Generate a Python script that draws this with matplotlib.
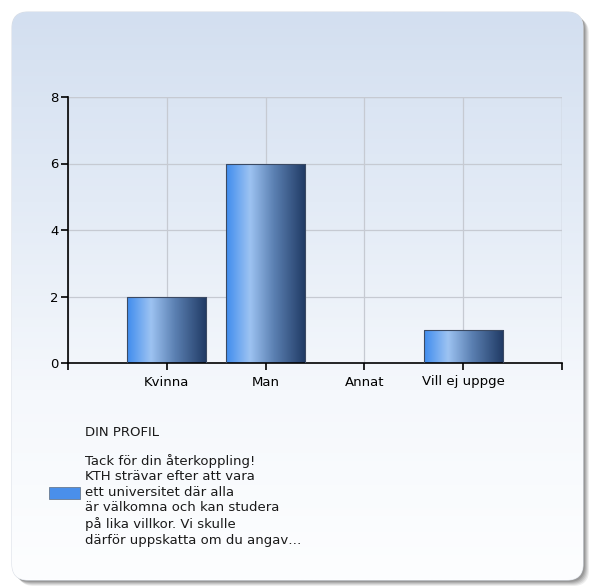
import numpy as np
import matplotlib
matplotlib.use("Agg")
import matplotlib.pyplot as plt
from matplotlib.patches import FancyBboxPatch, Rectangle
from matplotlib.colors import LinearSegmentedColormap

# ---- data ----
categories = ["Kvinna", "Man", "Annat", "Vill ej uppge"]
counts = [2, 6, 0, 1]
y_ticks = [0, 2, 4, 6, 8]
legend_title = "DIN PROFIL"
legend_text = ("Tack för din återkoppling!\n"
               "KTH strävar efter att vara\n"
               "ett universitet där alla\n"
               "är välkomna och kan studera\n"
               "på lika villkor. Vi skulle\n"
               "därför uppskatta om du angav…")

W, H = 594, 586
fig = plt.figure(figsize=(W / 100, H / 100), dpi=100)
fig.patch.set_facecolor("white")

# ---- rounded panel with drop shadow and vertical gradient ----
bg = fig.add_axes([0, 0, 1, 1], zorder=0)
bg.set_xlim(0, W)
bg.set_ylim(H, 0)
bg.axis("off")

px0, py0, px1, py1 = 12, 12, 583, 580
for i, a in enumerate([0.10, 0.13, 0.16, 0.20, 0.25]):
    off = 6 - i
    sh = FancyBboxPatch((px0 + off, py0 + off), px1 - px0, py1 - py0,
                        boxstyle="round,pad=0,rounding_size=16",
                        facecolor=(0.35, 0.35, 0.35, a), edgecolor="none")
    bg.add_patch(sh)

panel = FancyBboxPatch((px0, py0), px1 - px0, py1 - py0,
                       boxstyle="round,pad=0,rounding_size=16",
                       facecolor="white", edgecolor=(0.85, 0.87, 0.9), lw=0.8)
bg.add_patch(panel)
panel_cmap = LinearSegmentedColormap.from_list(
    "panel", ["#d3dff0", "#e3ebf6", "#f5f8fc", "#fdfeff"])
grad = np.linspace(0, 1, 256).reshape(-1, 1)
im = bg.imshow(grad, cmap=panel_cmap, aspect="auto",
               extent=(px0, px1, py1, py0), zorder=1)
im.set_clip_path(panel)

# ---- bar chart ----
ax = fig.add_axes([68 / W, 1 - 363 / H, (562 - 68) / W, (363 - 97) / H], zorder=2)
ax.set_facecolor("none")
x = np.arange(1, len(categories) + 1)
ax.set_xlim(0, len(categories) + 1)
ax.set_ylim(0, 8)

ax.set_yticks(y_ticks)
ax.set_xticks(list(range(0, len(categories) + 2)))
ax.set_xticklabels([""] + categories + [""])
ax.grid(True, color="#c6cad2", lw=0.9)
ax.set_axisbelow(True)
for s in ["top", "right"]:
    ax.spines[s].set_visible(False)
for s in ["left", "bottom"]:
    ax.spines[s].set_color("black")
    ax.spines[s].set_linewidth(1.2)
ax.tick_params(axis="both", direction="out", length=5, width=1.2,
               labelsize=9.5, colors="black", pad=3)
ax.tick_params(axis="x", pad=4)
ax.tick_params(axis="y", pad=2)
# gridlines along the top and right edges
ax.axhline(8, color="#c6cad2", lw=0.9, zorder=0.5)
ax.axvline(len(categories) + 1, color="#c6cad2", lw=0.9, zorder=0.5)

bar_cmap = LinearSegmentedColormap.from_list(
    "bar", [(0.0, "#3f8cee"), (0.3, "#9dc3f2"), (0.6, "#5b80b2"), (1.0, "#1f3963")])
hgrad = np.linspace(0, 1, 256).reshape(1, -1)
bars = ax.bar(x, counts, width=0.8, facecolor="none",
              edgecolor="#3b4a63", linewidth=0.8, zorder=3)
for b in bars:
    if b.get_height() <= 0:
        continue
    bx, by = b.get_x(), b.get_y()
    bim = ax.imshow(hgrad, cmap=bar_cmap, aspect="auto", zorder=2.5,
                    extent=(bx, bx + b.get_width(), by, by + b.get_height()))
    bim.set_clip_path(b)
ax.set_xlim(0, len(categories) + 1)
ax.set_ylim(0, 8)

# ---- legend ----
fig.text(85 / W, 1 - 433 / H, legend_title, fontsize=9.5, va="center",
         ha="left", color="#1a1a1a", zorder=5)
fig.text(85 / W, 1 - 454 / H, legend_text, fontsize=9.5, va="top",
         ha="left", color="#1a1a1a", linespacing=1.25, zorder=5)
fig.patches.append(Rectangle((49 / W, 1 - 499 / H), 31 / W, 12 / H,
                             transform=fig.transFigure, facecolor="#4a8fea",
                             edgecolor="#6a7a90", lw=0.6, zorder=5))

fig.savefig("out.png", dpi=100)
